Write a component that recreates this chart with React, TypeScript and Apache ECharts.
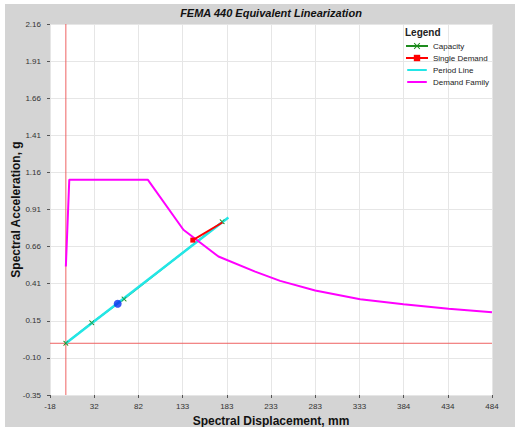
import React, { useEffect, useRef } from 'react';
import * as echarts from 'echarts';

// Axis extents and tick labels as printed on the reference
const X_MIN = -18;
const X_MAX = 484;
const Y_MIN = -0.35;
const Y_MAX = 2.16;
const xTickLabels = ['-18', '32', '82', '133', '183', '233', '283', '333', '384', '434', '484'];
const yTickLabels = ['-0.35', '-0.10', '0.15', '0.41', '0.66', '0.91', '1.16', '1.41', '1.66', '1.91', '2.16'];

// Series (Sd in mm, Sa in g)
const capacityX = [0, 29.4, 66.1, 177.5];
const capacityY = [0, 0.138, 0.3, 0.822];
const singleDemandX = [144.2, 177.8];
const singleDemandY = [0.698, 0.817];
const periodLineX = [0, 184.6];
const periodLineY = [0, 0.851];
const demandFamilyX = [0, 3.9, 93.0, 133.5, 173.3, 215.0, 243.4, 283.2, 334.3, 383.5, 434.7, 484];
const demandFamilyY = [0.519, 1.107, 1.107, 0.768, 0.587, 0.485, 0.422, 0.357, 0.298, 0.264, 0.233, 0.21];
const perfPointX = [58.9];
const perfPointY = [0.267];

const X_STEP = (X_MAX - X_MIN) / (xTickLabels.length - 1);
const Y_STEP = (Y_MAX - Y_MIN) / (yTickLabels.length - 1);

const pts = (xs: number[], ys: number[]) => xs.map((x, i) => [x - X_MIN, ys[i] - Y_MIN]);

const X_SYMBOL = 'path://M0,1L1,0L5,4L9,0L10,1L6,5L10,9L9,10L5,6L1,10L0,9L4,5Z';
// thick horizontal bar with invisible specks fixing the bounding box (for legend icons)
const LINE_ICON = 'path://M0,0L0.01,0L0.01,0.01Z M0,3.3L22,3.3L22,5.7L0,5.7Z M0,8.99L0.01,8.99L0.01,9Z';
const FONT = 'Liberation Sans, Arial, sans-serif';
const ZERO_COLOR = '#ee6262';

export default function App() {
  const ref = useRef<HTMLDivElement>(null);
  useEffect(() => {
    if (!ref.current) return;
    const chart = echarts.init(ref.current, undefined, { renderer: 'svg' });
    const singleData = pts(singleDemandX, singleDemandY).map((p, i) =>
      i === 0 ? { value: p } : { value: p, symbol: 'none' }
    );
    chart.setOption({
      animation: false,
      backgroundColor: '#ffffff',
      textStyle: { fontFamily: FONT },
      graphic: [
        { type: 'rect', z: -10, shape: { x: 5, y: 4, width: 510, height: 423 }, style: { fill: '#d4d4d4' } },
        {
          type: 'text', x: 271, y: 13, z: 10,
          style: { text: 'FEMA 440 Equivalent Linearization', font: 'italic bold 11px ' + FONT, fill: '#111', textAlign: 'center', verticalAlign: 'middle' },
        },
        {
          type: 'text', x: 405, y: 32, z: 10,
          style: { text: 'Legend', font: 'bold 10px ' + FONT, fill: '#222', textAlign: 'left', verticalAlign: 'middle' },
        },
      ],
      grid: {
        left: 50, top: 24, right: 23, bottom: 32,
        containLabel: false,
        outerBoundsMode: 'none',
        show: true, backgroundColor: '#ffffff', borderWidth: 0,
      },
      legend: {
        data: [
          { name: 'Capacity' },
          { name: 'Single Demand' },
          { name: 'Period Line', icon: LINE_ICON },
          { name: 'Demand Family', icon: LINE_ICON },
        ],
        orient: 'vertical',
        left: 405,
        top: 42,
        itemWidth: 22,
        itemHeight: 8,
        itemGap: 4,
        padding: 0,
        textStyle: { fontSize: 8, color: '#222', fontFamily: FONT },
      },
      xAxis: {
        type: 'value',
        min: 0,
        max: X_MAX - X_MIN,
        interval: X_STEP,
        name: 'Spectral Displacement, mm',
        nameLocation: 'middle',
        nameGap: 20,
        nameMoveOverlap: false,
        nameTextStyle: { fontSize: 12, fontWeight: 'bold', color: '#111', fontFamily: FONT },
        axisLine: { show: false },
        axisTick: { show: true, length: 3, lineStyle: { color: '#555' } },
        axisLabel: {
          fontSize: 8, color: '#333', margin: 7,
          formatter: (v: number) => xTickLabels[Math.round(v / X_STEP)] ?? '',
        },
        splitLine: { show: true, lineStyle: { color: '#e6e6e6', width: 1 } },
      },
      yAxis: {
        type: 'value',
        min: 0,
        max: Y_MAX - Y_MIN,
        interval: Y_STEP,
        name: 'Spectral Acceleration, g',
        nameLocation: 'middle',
        nameGap: 28,
        nameMoveOverlap: false,
        nameTextStyle: { fontSize: 12, fontWeight: 'bold', color: '#111', fontFamily: FONT },
        axisLine: { show: false },
        axisTick: { show: true, length: 3, lineStyle: { color: '#555' } },
        axisLabel: {
          fontSize: 8, color: '#333', margin: 9,
          formatter: (v: number) => yTickLabels[Math.round(v / Y_STEP)] ?? '',
        },
        splitLine: { show: true, lineStyle: { color: '#e6e6e6', width: 1 } },
      },
      series: [
        {
          name: 'zeroX',
          type: 'line',
          z: 1,
          silent: true,
          data: [[0 - X_MIN, 0], [0 - X_MIN, Y_MAX - Y_MIN]],
          symbol: 'none',
          lineStyle: { width: 1, color: ZERO_COLOR },
          color: ZERO_COLOR,
        },
        {
          name: 'zeroY',
          type: 'line',
          z: 1,
          silent: true,
          data: [[0, 0 - Y_MIN], [X_MAX - X_MIN, 0 - Y_MIN]],
          symbol: 'none',
          lineStyle: { width: 1, color: ZERO_COLOR },
          color: ZERO_COLOR,
        },
        {
          name: 'Capacity',
          type: 'line',
          z: 2,
          data: pts(capacityX, capacityY),
          color: '#1e8c1e',
          lineStyle: { width: 1.5, color: '#1e8c1e' },
          symbol: X_SYMBOL,
          symbolSize: 5,
          showSymbol: true,
        },
        {
          name: 'Period Line',
          type: 'line',
          z: 3,
          data: pts(periodLineX, periodLineY),
          color: '#22e6e6',
          lineStyle: { width: 2.5, color: '#22e6e6' },
          symbol: 'none',
        },
        {
          name: 'Demand Family',
          type: 'line',
          z: 3,
          data: pts(demandFamilyX, demandFamilyY),
          color: '#ff00ff',
          lineStyle: { width: 2, color: '#ff00ff' },
          symbol: 'none',
        },
        {
          name: 'Capacity',
          type: 'scatter',
          z: 4,
          data: pts(capacityX, capacityY),
          color: '#1e8c1e',
          symbol: X_SYMBOL,
          symbolSize: 5,
        },
        {
          name: 'Single Demand',
          type: 'line',
          z: 5,
          data: singleData,
          color: '#ff0000',
          lineStyle: { width: 2, color: '#ff0000' },
          symbol: 'rect',
          symbolSize: 5,
          showSymbol: true,
        },
        {
          name: 'Performance Point',
          type: 'scatter',
          z: 6,
          data: pts(perfPointX, perfPointY),
          color: '#0a2ef0',
          symbolSize: 8,
        },
      ],
    });
    return () => chart.dispose();
  }, []);
  return <div ref={ref} style={{ position: 'absolute', left: 0, top: 0, width: 515, height: 427 }} />;
}
